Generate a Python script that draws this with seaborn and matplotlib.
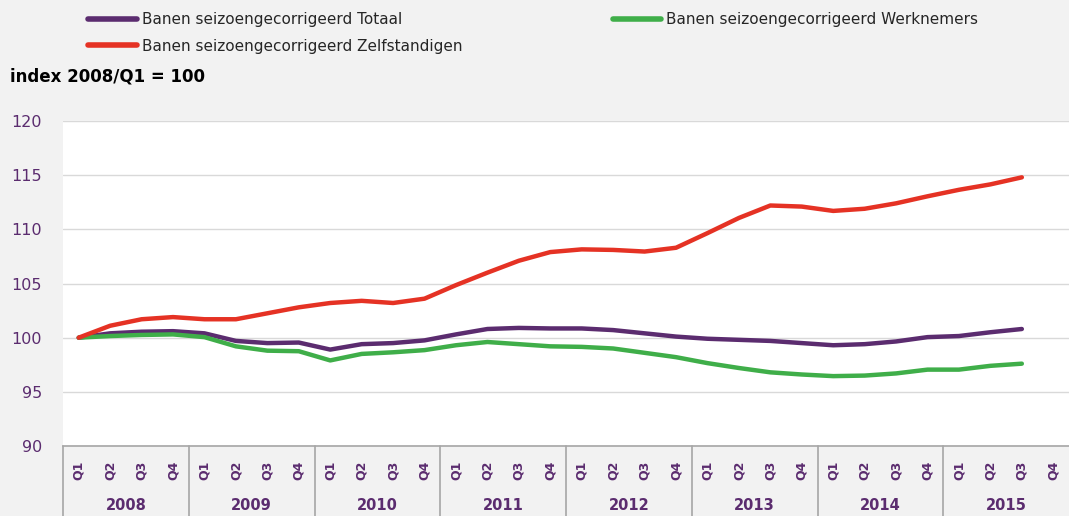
import numpy as np
import pandas as pd
import seaborn as sns
import matplotlib.pyplot as plt
import matplotlib.transforms as mtransforms
from matplotlib.lines import Line2D

# data, index 2008/Q1 = 100
years = ['2008', '2009', '2010', '2011', '2012', '2013', '2014', '2015']
quarters = ['Q1', 'Q2', 'Q3', 'Q4']
totaal = [100.0, 100.4, 100.55, 100.6, 100.4, 99.7, 99.5, 99.55,
          98.9, 99.4, 99.5, 99.75, 100.3, 100.8, 100.9, 100.85,
          100.85, 100.7, 100.4, 100.1, 99.9, 99.8, 99.7, 99.5,
          99.3, 99.4, 99.65, 100.05, 100.15, 100.5, 100.8]
werknemers = [100.0, 100.15, 100.25, 100.3, 100.05, 99.2, 98.8, 98.75,
              97.9, 98.5, 98.65, 98.85, 99.3, 99.6, 99.4, 99.2,
              99.15, 99.0, 98.6, 98.2, 97.65, 97.2, 96.8, 96.6,
              96.45, 96.5, 96.7, 97.05, 97.05, 97.4, 97.6]
zelfstandigen = [100.0, 101.1, 101.7, 101.9, 101.7, 101.7, 102.25, 102.8,
                 103.2, 103.4, 103.2, 103.6, 104.85, 106.0, 107.1, 107.9,
                 108.15, 108.1, 107.95, 108.3, 109.65, 111.05, 112.2, 112.1,
                 111.7, 111.9, 112.4, 113.05, 113.65, 114.15, 114.8]

names = ['Banen seizoengecorrigeerd Totaal',
         'Banen seizoengecorrigeerd Werknemers',
         'Banen seizoengecorrigeerd Zelfstandigen']
colors = {names[0]: '#5b2c6f', names[1]: '#3fae49', names[2]: '#e53224'}

rows = []
for name, vals in zip(names, [totaal, werknemers, zelfstandigen]):
    for i, v in enumerate(vals):
        rows.append({'t': i, 'value': v, 'reeks': name})
df = pd.DataFrame(rows)

sns.set_style('white')
plt.rcParams['font.family'] = ['DejaVu Sans']

fig = plt.figure(figsize=(10.69, 5.16), dpi=100, facecolor='#f2f2f2')
W, H = 1069, 516
ax = fig.add_axes([63 / W, (H - 446) / H, (1069 - 63) / W, (446 - 121) / H])
ax.set_facecolor('white')

sns.lineplot(data=df, x='t', y='value', hue='reeks', palette=colors,
             linewidth=3.2, ax=ax, legend=False, solid_capstyle='round')

ax.set_xlim(-0.5, 31.5)
ax.set_ylim(90, 120)
ax.set_yticks(range(90, 121, 5))
ax.yaxis.grid(True, color='#d9d9d9', linewidth=1)
ax.set_axisbelow(True)
ax.set_xticks([])
ax.set_xlabel('')
ax.set_ylabel('')
purple = '#5b2c6f'
ax.tick_params(axis='y', length=0, labelsize=11.5, labelcolor=purple, pad=15)
for s in ['top', 'right', 'left']:
    ax.spines[s].set_visible(False)
ax.spines['bottom'].set_color('#a6a6a6')
ax.spines['bottom'].set_linewidth(1.2)

# category axis: quarters and years
trans = mtransforms.blended_transform_factory(ax.transData, ax.transAxes)
ph = (446 - 121)  # axes height in px
for i in range(len(years) * 4):
    ax.text(i, -(470 - 446) / ph, quarters[i % 4], transform=trans, rotation=90,
            ha='center', va='center', fontsize=9, fontweight='bold', color=purple)
for j, y in enumerate(years):
    ax.text(j * 4 + 1.5, -(506 - 446) / ph, y, transform=trans, ha='center',
            va='center', fontsize=10.5, fontweight='bold', color=purple)
for j in range(len(years)):
    ax.add_line(Line2D([j * 4 - 0.5, j * 4 - 0.5], [0, -(H - 446) / ph],
                       transform=trans, color='#a6a6a6', linewidth=1.2, clip_on=False))

# legend
handles = [Line2D([], [], color=colors[n], linewidth=4, solid_capstyle='round') for n in names]
order = [0, 2, 1]
fig.legend([handles[k] for k in order], [names[k] for k in order],
           loc='upper left', bbox_to_anchor=(82 / W, 1 - 6 / H), ncol=2,
           frameon=False, fontsize=11, handlelength=3.2, handletextpad=0.3,
           columnspacing=9.85, labelspacing=0.76, borderaxespad=0)

fig.text(10 / W, 1 - 77 / H, 'index 2008/Q1 = 100', fontsize=12, fontweight='bold',
         ha='left', va='center', color='black')

fig.savefig('out.png', dpi=100, facecolor=fig.get_facecolor())
